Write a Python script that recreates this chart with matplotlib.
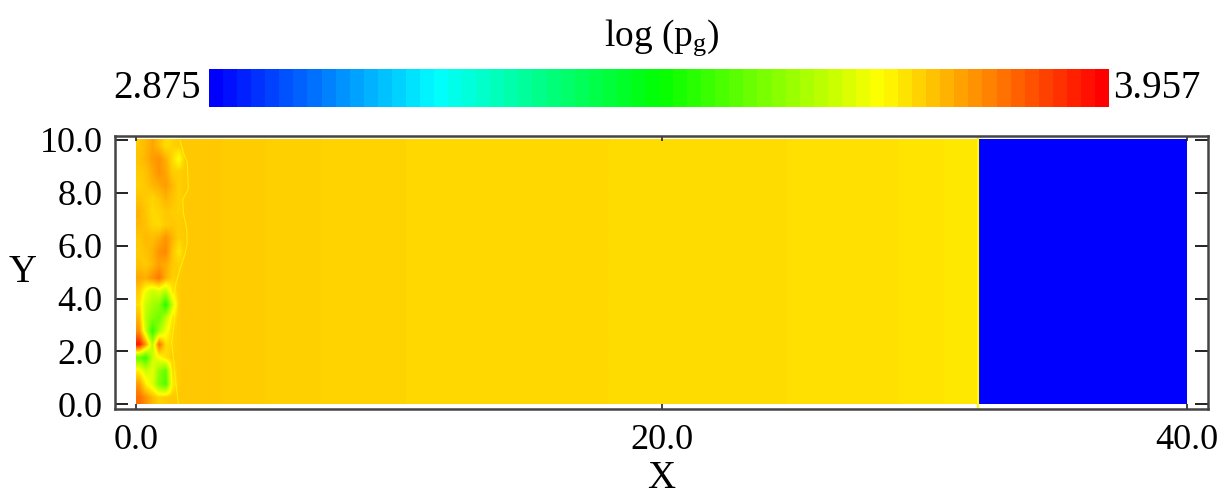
import numpy as np
import matplotlib
matplotlib.use("Agg")
import matplotlib.pyplot as plt
from matplotlib.colors import LinearSegmentedColormap, Normalize
from matplotlib.cm import ScalarMappable

plt.rcParams['font.family'] = ['Liberation Serif', 'DejaVu Serif']
plt.rcParams['mathtext.fontset'] = 'custom'
plt.rcParams['mathtext.rm'] = 'Liberation Serif'
plt.rcParams['mathtext.it'] = 'Liberation Serif:italic'

# ---- data -----------------------------------------------------------------
vmin, vmax = 2.875, 3.957
x_ticks = [0.0, 20.0, 40.0]
y_ticks = [0.0, 2.0, 4.0, 6.0, 8.0, 10.0]

# log(p_g) of the shocked gas, sampled on 2-unit cells from x = 0 to the front
bg_values = [3.745, 3.742, 3.737, 3.733, 3.730, 3.728, 3.727, 3.726,
             3.725, 3.724, 3.723, 3.722, 3.720, 3.718, 3.716, 3.711]
front_x = 32.1          # position of the pressure jump
domain_x = 40.0
domain_y = 10.0
ambient_value = 2.875   # unshocked gas ahead of the front

# mixing layer near the inlet: 0.25 x 0.5 cells over 0 <= x <= 2 (rows top -> bottom)
mix_width = 2.0
mix_values = [
    [3.745, 3.76, 3.78, 3.755, 3.72, 3.73, 3.74, 3.745],
    [3.75, 3.765, 3.79, 3.80, 3.77, 3.725, 3.68, 3.745],
    [3.74, 3.75, 3.775, 3.80, 3.78, 3.74, 3.735, 3.745],
    [3.735, 3.745, 3.76, 3.775, 3.79, 3.76, 3.735, 3.745],
    [3.75, 3.74, 3.73, 3.745, 3.765, 3.75, 3.735, 3.745],
    [3.765, 3.745, 3.725, 3.73, 3.745, 3.74, 3.735, 3.745],
    [3.76, 3.75, 3.73, 3.725, 3.74, 3.745, 3.74, 3.745],
    [3.745, 3.76, 3.755, 3.77, 3.80, 3.765, 3.735, 3.745],
    [3.74, 3.75, 3.765, 3.80, 3.81, 3.75, 3.71, 3.745],
    [3.75, 3.74, 3.76, 3.785, 3.775, 3.745, 3.735, 3.745],
    [3.78, 3.77, 3.80, 3.83, 3.77, 3.735, 3.74, 3.745],
    [3.74, 3.67, 3.63, 3.65, 3.61, 3.71, 3.74, 3.745],
    [3.72, 3.63, 3.59, 3.57, 3.45, 3.63, 3.74, 3.745],
    [3.76, 3.61, 3.56, 3.53, 3.61, 3.71, 3.74, 3.745],
    [3.80, 3.63, 3.47, 3.59, 3.67, 3.73, 3.74, 3.745],
    [3.93, 3.79, 3.61, 3.84, 3.72, 3.73, 3.74, 3.745],
    [3.53, 3.48, 3.63, 3.68, 3.72, 3.74, 3.74, 3.745],
    [3.70, 3.63, 3.66, 3.57, 3.52, 3.72, 3.74, 3.745],
    [3.79, 3.70, 3.65, 3.55, 3.50, 3.70, 3.74, 3.745],
    [3.84, 3.80, 3.76, 3.73, 3.74, 3.745, 3.745, 3.745],
]

# edge of the mixing layer
edge_x = [1.68, 1.80, 1.95, 1.99, 1.78, 1.80, 1.93, 1.95, 1.86, 1.67,
          1.52, 1.45, 1.48, 1.36, 1.45, 1.52, 1.61]
edge_y = [9.97, 9.53, 9.15, 8.14, 7.76, 7.25, 6.62, 6.11, 5.67, 5.10,
          4.59, 4.08, 3.32, 2.31, 1.55, 0.79, 0.03]

# ---- colour tables ----------------------------------------------------------
nodes = [(0.00, (0, 0, 1)), (0.25, (0, 1, 1)), (0.50, (0, 1, 0)),
         (0.75, (1, 1, 0)), (1.00, (1, 0, 0))]
cmap_field = LinearSegmentedColormap.from_list("rainbow256", nodes, N=256)
cmap_bar = LinearSegmentedColormap.from_list("rainbow64", nodes, N=64)
norm = Normalize(vmin=vmin, vmax=vmax)

# ---- figure -----------------------------------------------------------------
W, H = 1232, 498
fig = plt.figure(figsize=(W / 100, H / 100), dpi=100)

ax = fig.add_axes([115 / W, 1 - 409 / H, (1208 - 115) / W, (409 - 136) / H])
common = dict(cmap=cmap_field, norm=norm, origin="upper", aspect="auto",
              interpolation="bilinear", interpolation_stage="data")

bg = np.array([bg_values, bg_values])
ax.imshow(bg, extent=[0, front_x, 0, domain_y], **common)
ax.imshow(np.full((2, 2), ambient_value), extent=[front_x, domain_x, 0, domain_y],
          cmap=cmap_field, norm=norm, aspect="auto", interpolation="nearest")
ax.imshow(np.array(mix_values), extent=[0, mix_width, 0, domain_y], **common)
ax.plot(edge_x, edge_y, color=cmap_field(norm(3.69)), lw=0.8, alpha=0.7)
# thin bright rim just behind the front
ax.axvline(front_x - 0.05, color=cmap_field(norm(3.69)), lw=1.5)

ax.set_xlim(-0.80, 40.80)
ax.set_ylim(-0.18, 10.15)
ax.set_xticks(x_ticks)
ax.set_xticklabels([f"{v:.1f}" for v in x_ticks])
ax.set_yticks(y_ticks)
ax.set_yticklabels([f"{v:.1f}" for v in y_ticks])

frame_col = "#444444"
for s in ax.spines.values():
    s.set_color(frame_col)
    s.set_linewidth(1.8)
ax.tick_params(axis="x", direction="in", length=3.5, width=1.2, top=True,
               labelsize=26, pad=11, color="#222222")
ax.tick_params(axis="y", direction="in", length=9.5, width=1.4, right=True,
               labelsize=26, pad=9, color="#222222")
ax.set_xlabel("X", fontsize=28, labelpad=2)
ax.set_ylabel("Y", fontsize=28, rotation=0, labelpad=12, va="center")

# horizontal colour bar with its range written at both ends
cax = fig.add_axes([209 / W, 1 - 107 / H, 900 / W, 38 / H])
cb = fig.colorbar(ScalarMappable(norm=norm, cmap=cmap_bar), cax=cax,
                  orientation="horizontal")
cb.outline.set_visible(False)
cax.set_xticks([])
cax.set_yticks([])
fig.text(201 / W, 1 - 89 / H, f"{vmin:.3f}", ha="right", va="center", fontsize=28)
fig.text(1113 / W, 1 - 89 / H, f"{vmax:.3f}", ha="left", va="center", fontsize=28)
fig.text(662 / W, 1 - 38 / H, r"log (p$_{\rm g}$)", ha="center", va="center", fontsize=27)

fig.savefig("out.png", dpi=100)
